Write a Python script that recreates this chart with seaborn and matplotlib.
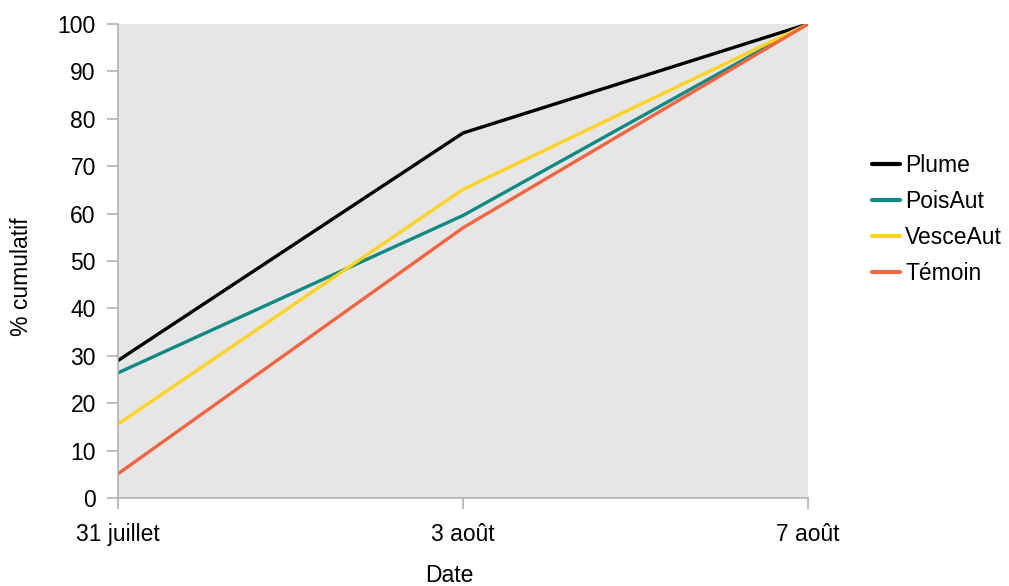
import matplotlib
matplotlib.use("Agg")
import matplotlib.pyplot as plt
import seaborn as sns
import pandas as pd

dates = ["31 juillet", "3 août", "7 août"]
plume = [29.0, 77.0, 100.0]
pois_aut = [26.4, 59.6, 100.0]
vesce_aut = [15.6, 65.1, 100.0]
temoin = [5.1, 57.0, 100.0]

series = {"Plume": plume, "PoisAut": pois_aut, "VesceAut": vesce_aut, "Témoin": temoin}
palette = {"Plume": "#000000", "PoisAut": "#0e8a83", "VesceAut": "#ffd320", "Témoin": "#f2653f"}

rows = []
for name, vals in series.items():
    for d, v in zip(dates, vals):
        rows.append({"Date": d, "valeur": v, "serie": name})
df = pd.DataFrame(rows)

sns.set_theme(style="white")
plt.rcParams["font.family"] = ["Liberation Sans", "DejaVu Sans"]
plt.rcParams["text.color"] = "#000000"

W, H = 1009, 586
FS = 16.5
fig = plt.figure(figsize=(W / 100, H / 100), dpi=100)
ax = fig.add_axes([118 / W, 1 - 498 / H, 690 / W, 474 / H])
ax.set_facecolor("#e6e6e6")

sns.lineplot(data=df, x="Date", y="valeur", hue="serie", palette=palette,
             linewidth=2.4, ax=ax, sort=False)

ax.set_xlim(0, 2)
ax.set_ylim(0, 100)
ax.set_yticks(range(0, 101, 10))
ax.set_xticks([0, 1, 2])
ax.set_xticklabels(dates)

for side in ("top", "right"):
    ax.spines[side].set_visible(False)
for side in ("left", "bottom"):
    ax.spines[side].set_color("#b3b3b3")
    ax.spines[side].set_linewidth(1.2)

ax.tick_params(axis="both", which="major", direction="out", length=8,
               width=1.2, color="#b3b3b3", labelsize=FS, labelcolor="#000000",
               pad=8, left=True, bottom=True)
ax.tick_params(axis="x", pad=10)

ax.set_xlabel("")
ax.set_ylabel("")
fig.text(449 / W, 1 - 575 / H, "Date", fontsize=FS, ha="center", va="center",
         color="#000000")
fig.text(22 / W, 1 - 277 / H, "% cumulatif", fontsize=FS, ha="center",
         va="center", rotation=90, color="#000000")

handles, labels = ax.get_legend_handles_labels()
leg = ax.legend(handles, labels, loc="center left",
                bbox_to_anchor=(872 / W, 1 - 219.5 / H),
                bbox_transform=fig.transFigure, borderaxespad=0, borderpad=0,
                frameon=False, fontsize=FS, handlelength=1.2, handletextpad=0.25,
                labelspacing=0.58, labelcolor="#000000")
for line in leg.get_lines():
    line.set_linewidth(3)

fig.savefig("out.png", dpi=100)
